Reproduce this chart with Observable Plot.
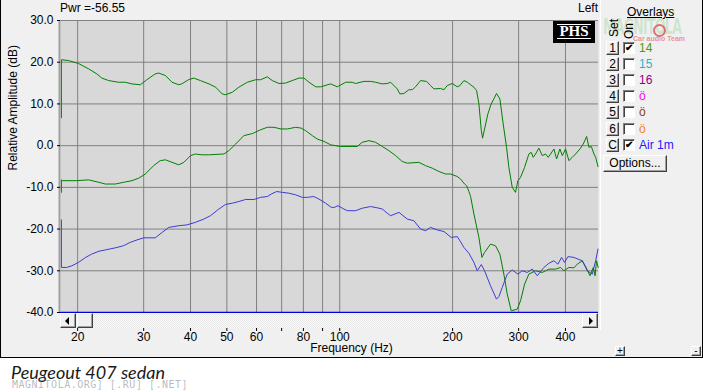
<!DOCTYPE html>
<html>
<head>
<meta charset="utf-8">
<script src="https://cdn.jsdelivr.net/npm/d3@7"></script>
<script src="https://cdn.jsdelivr.net/npm/@observablehq/plot@0.6"></script>
<style>
  html, body { margin: 0; padding: 0; background: #ffffff; }
  #wrap { position: relative; width: 703px; height: 392px; font-family: "Liberation Sans", Arial, sans-serif; font-size: 12px; color: #000; }
  #win { position: absolute; left: 0; top: 0; width: 703px; height: 358px; background: #f0f0f0; overflow: hidden; }
  #win svg { position: absolute; left: 0; top: 0; }
  .abs { position: absolute; white-space: nowrap; }
  .btn { position: absolute; box-sizing: border-box; background: #f0f0f0; border: 1px solid; border-color: #ffffff #404040 #404040 #ffffff; box-shadow: inset -1px -1px 0 #a0a0a0; text-align: center; line-height: 12px; font-size: 12px; }
  .chk { position: absolute; box-sizing: border-box; width: 12px; height: 12px; background: #fff; border: 1px solid; border-color: #808080 #ffffff #ffffff #808080; box-shadow: inset 1px 1px 0 #404040; font-size: 10px; line-height: 10px; text-align: center; font-weight: bold; }
  .lbl { position: absolute; font-size: 12px; line-height: 14px; }
  #frameBorder { position: absolute; left: 0; top: 0; width: 703px; height: 358px; box-sizing: border-box; border: 1px solid #000; border-top: none; pointer-events: none; }
</style>
</head>
<body>
<div id="wrap">
  <div id="win"></div>
</div>
<script>
// ---------- data ----------
const xTicks = [20, 30, 40, 50, 60, 70, 80, 90, 100, 200, 300, 400];
const xTickLabels = ["20", "30", "40", "50", "60", "", "80", "", "100", "200", "300", "400"];
const yTicks = [-40, -30, -20, -10, 0, 10, 20, 30];
const yTickLabels = ["-40.0", "-30.0", "-20.0", "-10.0", "0.0", "10.0", "20.0", "30.0"];

// upper green curve [Hz, dB]
const upperGreen = [[18.1,6.7],[18.1,20.6],[18.9,20.4],[20.1,19.7],[21.4,18.4],[22.5,17.2],[23.2,16.2],[24.2,15.6],[25.7,15.2],[26.8,15.2],[27.9,14.8],[29.4,14.6],[30.6,15.8],[32.2,17.2],[32.9,17.4],[34.3,16.8],[35.7,15.2],[37.2,14.6],[37.9,14.8],[39.5,15.8],[40.8,16.2],[42.5,15.6],[44.8,14.8],[46.7,14.0],[48.6,12.4],[49.6,12.2],[51.7,12.8],[53.8,14.0],[56.7,15.2],[59.7,15.8],[61.5,15.8],[64.1,16.5],[66.1,15.6],[68.9,14.9],[71.7,15.0],[74.7,15.6],[77.9,16.2],[80.3,16.2],[82.8,15.2],[86.3,14.1],[88.9,14.1],[94.6,14.8],[98.5,14.1],[103.7,15.2],[108.0,15.2],[110.2,14.9],[116.0,15.4],[120.9,15.4],[124.6,15.2],[129.9,14.8],[133.9,14.9],[136.7,15.2],[142.4,13.6],[144.7,12.4],[148.3,12.5],[152.9,13.4],[156.1,13.4],[159.3,14.1],[164.3,15.6],[170.5,15.4],[174.7,14.4],[178.3,13.6],[185.8,13.7],[189.7,13.4],[193.5,14.4],[199.6,14.9],[205.8,14.1],[209.2,14.4],[214.4,15.6],[219.0,15.2],[223.4,14.6],[228.0,14.0],[231.8,13.2],[235.1,10.0],[238.6,3.6],[240.4,1.8],[243.4,4.0],[248.4,7.6],[253.5,10.0],[257.7,11.2],[261.9,12.5],[267.4,11.2],[272.9,5.2],[278.6,-0.4],[282.6,-5.2],[288.5,-10.0],[294.4,-11.2],[298.7,-8.4],[303.6,-7.6],[311.2,-5.2],[319.5,-2.0],[324.2,-1.6],[328.2,-2.8],[332.9,-2.0],[339.8,-0.6],[346.9,-2.4],[354.0,-2.0],[359.9,-2.8],[365.1,-2.0],[372.6,-0.8],[378.8,-3.2],[386.6,-0.8],[392.3,-2.4],[400.3,-0.8],[408.6,-3.6],[417.1,-2.8],[425.7,-2.0],[437.2,-0.8],[446.3,0.4],[455.5,2.2],[462.1,-0.4],[468.9,-0.2],[476.6,-2.0],[481.5,-2.8],[488.5,-5.0]];

// lower green curve [Hz, dB]
const lowerGreen = [[18.1,-11.2],[18.1,-8.2],[18.2,-8.4],[19.9,-8.4],[21.4,-8.2],[22.8,-8.8],[23.7,-9.2],[25.2,-9.2],[26.5,-8.8],[27.9,-8.4],[29.1,-7.8],[30.3,-6.8],[31.9,-4.8],[33.2,-3.6],[34.3,-3.4],[35.7,-4.0],[37.2,-4.6],[38.4,-4.0],[40.0,-2.4],[41.2,-2.0],[42.9,-2.2],[44.7,-2.2],[49.1,-2.0],[50.6,-1.2],[52.8,0.4],[55.5,2.4],[58.5,2.9],[61.5,3.8],[64.1,4.4],[66.8,4.4],[69.7,4.0],[72.5,4.0],[76.3,4.4],[78.9,4.2],[81.1,3.6],[84.5,2.4],[87.1,1.6],[90.8,1.0],[94.6,0.2],[100.3,-0.2],[111.4,-0.2],[114.8,0.8],[119.7,1.2],[124.6,0.8],[129.9,-0.2],[135.3,-1.2],[141.0,-2.4],[146.8,-3.8],[151.4,-4.2],[162.6,-4.0],[169.5,-4.8],[176.5,-5.4],[183.9,-6.2],[191.6,-6.8],[197.6,-6.8],[205.8,-7.4],[210.0,-8.0],[215.3,-9.2],[218.0,-9.6],[221.1,-11.0],[223.4,-12.2],[228.0,-16.4],[235.1,-22.0],[239.5,-26.8],[243.4,-25.6],[252.5,-23.6],[260.3,-24.0],[267.4,-26.0],[274.0,-30.8],[279.8,-35.6],[286.7,-39.6],[297.5,-39.2],[303.6,-37.2],[311.2,-33.2],[319.5,-30.8],[332.9,-30.0],[346.9,-30.4],[361.4,-29.6],[376.5,-29.6],[388.2,-29.2],[396.2,-30.0],[408.6,-29.2],[421.4,-29.3],[430.1,-28.4],[443.6,-27.6],[452.7,-29.0],[464.9,-31.2],[474.6,-29.2],[479.8,-31.2],[484.2,-27.6],[489.0,-29.2]];

// "Air 1m" blue curve [Hz, dB]
const air1m = [[18.1,-17.8],[18.1,-29.2],[18.7,-29.2],[19.3,-28.8],[20.1,-28.0],[21.0,-26.8],[21.8,-26.0],[22.8,-25.3],[23.7,-25.0],[25.2,-24.5],[26.5,-24.0],[27.6,-23.2],[28.8,-22.6],[30.0,-22.1],[32.2,-22.1],[33.6,-20.8],[35.0,-19.6],[37.2,-19.2],[39.1,-19.0],[41.2,-18.4],[43.4,-17.6],[45.2,-16.8],[47.6,-15.2],[49.6,-14.1],[51.7,-13.8],[53.8,-13.4],[56.1,-12.9],[59.1,-12.9],[61.5,-12.4],[64.1,-12.2],[65.7,-11.6],[67.9,-11.0],[70.3,-11.2],[73.2,-11.4],[76.3,-11.8],[79.5,-12.4],[81.9,-12.4],[85.3,-12.2],[88.0,-12.8],[91.7,-13.8],[95.0,-14.8],[96.8,-14.8],[98.9,-14.4],[102.6,-15.2],[104.8,-15.6],[110.2,-15.6],[114.8,-15.0],[120.9,-14.6],[125.9,-14.9],[129.9,-15.2],[133.9,-16.2],[136.7,-16.8],[143.9,-16.0],[151.4,-17.6],[157.7,-18.0],[164.3,-20.0],[169.5,-20.4],[174.7,-19.6],[182.0,-20.2],[189.7,-20.6],[198.3,-22.0],[205.8,-21.8],[209.2,-22.8],[214.4,-24.4],[221.1,-25.8],[228.0,-28.0],[232.7,-30.0],[238.6,-28.5],[243.4,-30.0],[252.5,-33.6],[261.9,-36.8],[265.8,-36.2],[271.3,-34.0],[279.8,-30.8],[288.5,-29.8],[298.7,-30.8],[306.8,-30.0],[316.4,-30.4],[326.3,-29.6],[336.4,-31.2],[350.4,-29.2],[361.4,-28.2],[372.6,-27.6],[381.9,-28.4],[390.6,-26.8],[397.9,-28.0],[406.1,-26.6],[421.4,-26.8],[431.8,-27.2],[443.6,-27.6],[457.4,-30.0],[471.7,-30.8],[481.5,-27.6],[488.5,-24.8]];

// overlay legend entries
const overlaySets = ["1", "2", "3", "4", "5", "6", "C"];
const overlayNames = ["14", "15", "16", "ö", "ö", "ö", "Air 1m"];
const overlayOn = [true, false, false, false, false, false, true];
const overlayColors = ["#4e9a06", "#1fb5c8", "#8b008b", "#ff00ff", "#8b4513", "#f08040", "#2020ff"];

const titleText = "Pwr =-56.55";
const channelText = "Left";
const xLabel = "Frequency (Hz)";
const yLabel = "Relative Amplitude (dB)";
const caption = "Peugeout 407 sedan";

// ---------- chart ----------
const xDomain = [18, 490];
const gridX = xTicks;
const gridY = yTicks.filter(v => v > -40);

const chart = Plot.plot({
  width: 703,
  height: 358,
  marginLeft: 60,
  marginRight: 105,
  marginTop: 20,
  marginBottom: 46,
  style: { background: "transparent", fontFamily: "Liberation Sans, Arial, sans-serif", fontSize: "12px", color: "#000", overflow: "visible" },
  x: { type: "log", domain: xDomain },
  y: { domain: [-40, 30] },
  marks: [
    Plot.frame({ fill: "#d8d8d8", stroke: null }),
    Plot.ruleX(gridX, { stroke: "#808080", strokeWidth: 1 }),
    Plot.ruleY(gridY, { stroke: "#808080", strokeWidth: 1 }),
    Plot.ruleY([-40], { stroke: "#0000e0", strokeWidth: 1.5 }),
    Plot.ruleX([xDomain[0]], { stroke: "#a0a0a0", strokeWidth: 2, dx: -1 }),
    Plot.line(lowerGreen, { x: d => d[0], y: d => d[1], stroke: "#008000", strokeWidth: 1 }),
    Plot.line(air1m, { x: d => d[0], y: d => d[1], stroke: "#3c3cd6", strokeWidth: 1 }),
    Plot.line(upperGreen, { x: d => d[0], y: d => d[1], stroke: "#008000", strokeWidth: 1 }),
    Plot.axisY({ ticks: yTicks, tickFormat: d => yTickLabels[yTicks.indexOf(d)], tickSize: 3, tickPadding: 4, label: null, fill: "#000", stroke: "#000" }),
    Plot.axisX({ ticks: xTicks, tickFormat: d => xTickLabels[xTicks.indexOf(d)], tickSize: 3, tickPadding: 1, dy: 16, label: null, fill: "#000", stroke: "#000" }),
    Plot.text([yLabel], { frameAnchor: "left", rotate: -90, dx: -47, dy: 4, fill: "#000", fontSize: 12 }),
    Plot.text([xLabel], { frameAnchor: "bottom", dx: 22, dy: 39, fill: "#000", fontSize: 12 })
  ]
});
const win = document.getElementById("win");
win.appendChild(chart);

function add(parent, cls, css, text) {
  const el = document.createElement("div");
  if (cls) el.className = cls;
  Object.assign(el.style, css);
  if (text != null) el.textContent = text;
  parent.appendChild(el);
  return el;
}

// top texts
add(win, "abs", { left: "60px", top: "1px", fontSize: "12px" }, titleText);
add(win, "abs", { left: "578px", top: "1px", fontSize: "12px" }, channelText);

// PHS logo
const phs = add(win, "abs", { left: "553px", top: "21px", width: "42px", height: "22px", background: "#000" });
add(phs, "abs", { left: "4px", top: "3px", width: "34px", height: "1px", background: "#fff" });
add(phs, "abs", { left: "4px", top: "17px", width: "34px", height: "1px", background: "#fff" });
add(phs, "abs", { left: "0px", top: "3px", width: "42px", textAlign: "center", color: "#fff", fontFamily: "'Liberation Serif', 'DejaVu Serif', serif", fontWeight: "bold", fontSize: "15px", lineHeight: "15px" }, "PHS");

// panel separator
add(win, "abs", { left: "600px", top: "0px", width: "1px", height: "330px", background: "#ffffff" });

// scrollbar
const sb = add(win, "abs", { left: "60px", top: "313px", width: "538px", height: "15px", background: "repeating-conic-gradient(#e6e6e6 0 25%, #fbfbfb 0 50%) 0 0 / 2px 2px" });
const lb = add(sb, "btn", { left: "0px", top: "0px", width: "16px", height: "15px" });
add(lb, "abs", { left: "4px", top: "3px", width: "0", height: "0", borderTop: "4px solid transparent", borderBottom: "4px solid transparent", borderRight: "4px solid #000" });
add(sb, "btn", { left: "17px", top: "0px", width: "16px", height: "15px" });
const rb = add(sb, "btn", { left: "522px", top: "0px", width: "16px", height: "15px" });
add(rb, "abs", { left: "6px", top: "3px", width: "0", height: "0", borderTop: "4px solid transparent", borderBottom: "4px solid transparent", borderLeft: "4px solid #000" });

// overlays panel (watermark first, underneath)
add(win, "abs", { left: "603px", top: "16px", width: "78px", overflow: "hidden", textAlign: "left" }, null);
const wm = add(win, "abs", { left: "603px", top: "15px", fontSize: "21px", lineHeight: "24px", fontWeight: "bold", letterSpacing: "-1px", color: "rgba(120,200,120,0.28)", fontFamily: "'Liberation Sans Narrow', 'DejaVu Sans Condensed', sans-serif", transform: "scaleX(0.66)", transformOrigin: "left top" }, "MAGNITOLA");
add(win, "abs", { left: "653px", top: "24px", width: "9px", height: "9px", borderRadius: "50%", border: "2px solid rgba(220,70,70,0.75)" });
add(win, "abs", { left: "633px", top: "35px", fontSize: "7px", lineHeight: "7px", fontWeight: "bold", color: "rgba(220,80,80,0.6)" }, "Car audio Team");
add(win, "abs", { left: "604px", top: "22px", transform: "rotate(-90deg)", transformOrigin: "center", width: "20px", textAlign: "center", fontSize: "12px", lineHeight: "12px" }, "Set");
add(win, "abs", { left: "620px", top: "25px", transform: "rotate(-90deg)", transformOrigin: "center", width: "18px", textAlign: "center", fontSize: "12px", lineHeight: "12px" }, "On");
add(win, "abs", { left: "627px", top: "5px", fontSize: "12px", textDecoration: "underline" }, "Overlays");

overlaySets.forEach((s, i) => {
  const top = 41 + i * 16.1;
  add(win, "btn", { left: "606px", top: top + "px", width: "13px", height: "14px" }, s);
  add(win, "chk", { left: "623px", top: (top + 1) + "px" }, overlayOn[i] ? "✔" : "");
  add(win, "lbl", { left: "639px", top: top + "px", color: overlayColors[i] }, overlayNames[i]);
});
add(win, "btn", { left: "603px", top: "155px", width: "64px", height: "17px", lineHeight: "14px" }, "Options...");

// small +/- buttons
add(win, "btn", { left: "615px", top: "346px", width: "10px", height: "10px", fontSize: "10px", lineHeight: "8px" }, "+");
add(win, "btn", { left: "691px", top: "346px", width: "10px", height: "10px", fontSize: "10px", lineHeight: "8px" }, "-");

add(win, "", {}, null).id = "frameBorder";

// caption below the window
const wrap = document.getElementById("wrap");
add(wrap, "abs", { left: "11px", top: "361px", fontFamily: "Lato, 'Open Sans', sans-serif", fontStyle: "italic", fontSize: "18px", color: "#1a1a1a" }, caption);
add(wrap, "abs", { left: "12px", top: "379px", fontFamily: "'DejaVu Sans Mono', monospace", fontSize: "10px", color: "rgba(120,130,140,0.55)", letterSpacing: "0.5px" }, "MAGNITOLA.ORG] [.RU] [.NET]");
</script>
</body>
</html>
